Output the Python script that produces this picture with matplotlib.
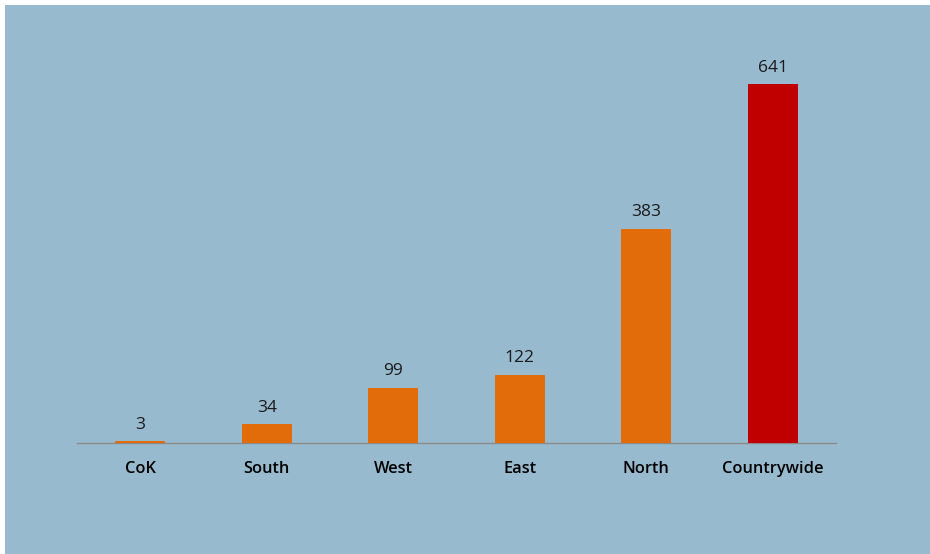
import matplotlib
matplotlib.use("Agg")
import matplotlib.pyplot as plt
from matplotlib.patches import Rectangle

regions = ["CoK", "South", "West", "East", "North", "Countrywide"]
counts = [3, 34, 99, 122, 383, 641]
bar_colors = ["#E36C0A", "#E36C0A", "#E36C0A", "#E36C0A", "#E36C0A", "#C00000"]

W, H = 930, 554
plt.rcParams["font.family"] = ["Open Sans", "DejaVu Sans"]
fig = plt.figure(figsize=(W / 100, H / 100), dpi=100, facecolor="white")

bg = "#98BACE"
fig.add_artist(Rectangle((5 / W, 0), 1 - 5 / W, 1 - 5 / H,
                         transform=fig.transFigure, facecolor=bg,
                         edgecolor="none", zorder=-10))

# axes spans x 77..836 px, baseline at y=443 px from top
left, right = 77 / W, 836 / W
bottom = (H - 443) / H
top = (H - 5) / H
ax = fig.add_axes([left, bottom, right - left, top - bottom])
ax.set_facecolor("none")
ax.set_zorder(1)

x = list(range(len(regions)))
bars = ax.bar(x, counts, width=0.395, color=bar_colors, zorder=3)
ax.set_xlim(-0.5, len(regions) - 0.5)
ax.set_ylim(0, 438 / 0.56)

for b, v in zip(bars, counts):
    ax.annotate(f"{v}", (b.get_x() + b.get_width() / 2, v),
                xytext=(0, 6), textcoords="offset points",
                ha="center", va="bottom", fontsize=12.5, color="#1a1a1a")

for s in ["top", "right", "left"]:
    ax.spines[s].set_visible(False)
ax.spines["bottom"].set_color("#8a8a8a")
ax.spines["bottom"].set_linewidth(1.0)
ax.spines["bottom"].set_zorder(2)
ax.set_yticks([])
ax.set_xticks(x)
ax.set_xticklabels(regions, fontsize=11.8, fontweight="semibold", color="black")
ax.tick_params(axis="x", length=0, pad=13)

fig.savefig("out.png", dpi=100, facecolor=fig.get_facecolor())
